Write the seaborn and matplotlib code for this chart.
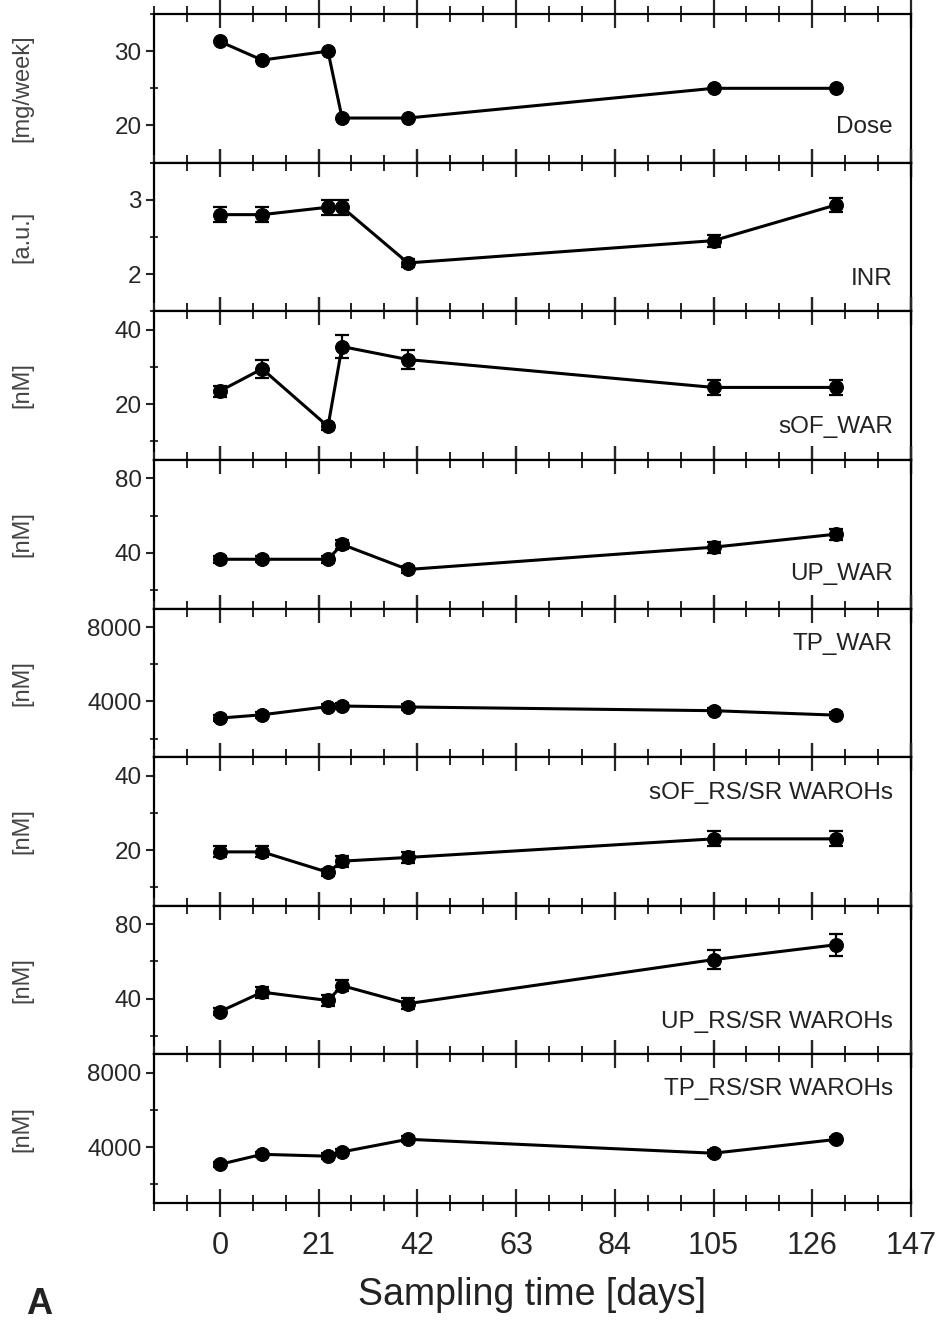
import numpy as np
import pandas as pd
import matplotlib
matplotlib.use("Agg")
import matplotlib.pyplot as plt
import seaborn as sns
from matplotlib.ticker import MultipleLocator, AutoMinorLocator

sns.set_theme(style="ticks")
plt.rcParams['font.family'] = ["Liberation Sans", "DejaVu Sans"]

days = [0, 9, 23, 26, 40, 105, 131]

dose = [31.3, 28.8, 30.0, 21.0, 21.0, 25.0, 25.0]
dose_err = [0, 0, 0, 0, 0, 0, 0]
inr = [2.8, 2.8, 2.9, 2.9, 2.15, 2.45, 2.93]
inr_err = [0.1, 0.1, 0.1, 0.1, 0.05, 0.08, 0.1]
sof_war = [23.5, 29.5, 14.0, 35.5, 32.0, 24.5, 24.5]
sof_war_err = [1.5, 2.5, 1.0, 3.0, 2.5, 2.0, 2.0]
up_war = [36.5, 36.5, 36.5, 44.5, 31.0, 43.0, 50.0]
up_war_err = [2.0, 1.5, 2.0, 2.5, 2.0, 3.0, 3.0]
tp_war = [3100, 3280, 3720, 3750, 3700, 3500, 3260]
tp_war_err = [150, 150, 150, 150, 150, 150, 150]
sof_oh = [19.5, 19.5, 14.0, 17.0, 18.0, 23.0, 23.0]
sof_oh_err = [1.5, 1.5, 1.0, 1.5, 1.5, 2.0, 2.0]
up_oh = [33.0, 43.5, 39.0, 47.0, 37.3, 61.0, 69.0]
up_oh_err = [2.0, 3.0, 3.0, 3.0, 3.0, 5.0, 6.0]
tp_oh = [3080, 3620, 3520, 3750, 4430, 3680, 4420]
tp_oh_err = [150, 150, 150, 150, 150, 150, 150]

names = ["Dose", "INR", "sOF_WAR", "UP_WAR", "TP_WAR",
         "sOF_RS/SR WAROHs", "UP_RS/SR WAROHs", "TP_RS/SR WAROHs"]
units = ["[mg/week]", "[a.u.]", "[nM]", "[nM]", "[nM]", "[nM]", "[nM]", "[nM]"]
series = [dose, inr, sof_war, up_war, tp_war, sof_oh, up_oh, tp_oh]
errors = [dose_err, inr_err, sof_war_err, up_war_err, tp_war_err,
          sof_oh_err, up_oh_err, tp_oh_err]
ylims = [(15, 35), (1.5, 3.5), (5, 45), (10, 90), (1000, 9000),
         (5, 45), (10, 90), (1000, 9000)]
ymajor = [10, 1, 20, 40, 4000, 20, 40, 4000]
label_y = [0.24, 0.22, 0.22, 0.23, 0.76, 0.76, 0.22, 0.77]
xticks = [0, 21, 42, 63, 84, 105, 126, 147]

sz = dict(yt=17.5, xt=22, ann=17.5, xl=27, yl=17, A=26)

W, H = 943, 1325
fig, axes = plt.subplots(8, 1, figsize=(W / 100, H / 100), dpi=100, sharex=True)
fig.subplots_adjust(left=154 / W, right=911 / W, top=1 - 14 / H,
                    bottom=1 - 1203 / H, hspace=0)

for i, ax in enumerate(axes):
    df = pd.DataFrame({"day": days, "val": series[i]})
    if any(e > 0 for e in errors[i]):
        ax.errorbar(days, series[i], yerr=errors[i], fmt="none",
                    ecolor="black", elinewidth=1.6, capsize=5, capthick=1.6, zorder=2)
    sns.lineplot(data=df, x="day", y="val", ax=ax, color="black", linewidth=2.2,
                 marker="o", markersize=10, markeredgecolor="black",
                 markerfacecolor="black", zorder=3)
    ax.set_ylim(*ylims[i])
    ax.set_xlim(-14, 147)
    ax.yaxis.set_major_locator(MultipleLocator(ymajor[i]))
    ax.yaxis.set_minor_locator(AutoMinorLocator(2))
    ax.set_xticks(xticks)
    ax.xaxis.set_minor_locator(MultipleLocator(7))
    ax.tick_params(axis="x", which="major", direction="inout", length=20, width=1.6,
                   top=True, bottom=True, labelsize=sz["xt"], pad=10)
    ax.tick_params(axis="x", which="minor", direction="inout", length=11, width=1.4,
                   top=True, bottom=True)
    ax.tick_params(axis="y", which="major", direction="out", length=6, width=1.5,
                   labelsize=sz["yt"], right=False, pad=3)
    ax.tick_params(axis="y", which="minor", direction="inout", length=6, width=1.3,
                   right=False)
    for s in ax.spines.values():
        s.set_linewidth(1.6)
        s.set_color("black")
    ax.set_ylabel(units[i], fontsize=sz["yl"], color="#444444")
    ax.yaxis.set_label_coords(-0.16, 0.5)
    ax.set_xlabel("")
    ax.text(0.976, label_y[i], names[i], transform=ax.transAxes, ha="right",
            va="center", fontsize=sz["ann"], color="#222222")
    if i < 7:
        ax.tick_params(axis="x", labelbottom=False)

axes[-1].set_xlabel("Sampling time [days]", fontsize=sz["xl"], labelpad=12, color="#222222")
fig.text(26 / W, 1 - 1304 / H, "A", fontsize=sz["A"], fontweight="bold",
         ha="left", va="center", color="#222222")

fig.savefig("out.png", dpi=100)
